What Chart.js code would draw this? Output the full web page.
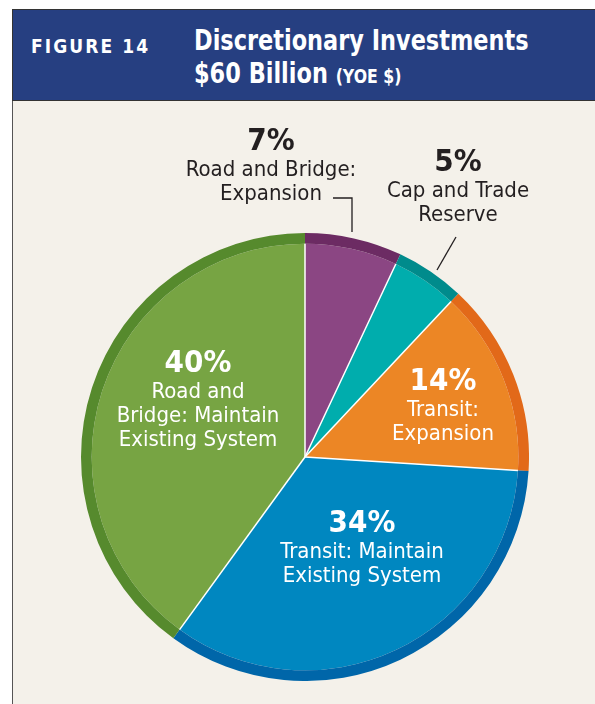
<!DOCTYPE html>
<html>
<head>
<meta charset="utf-8">
<script src="https://cdn.jsdelivr.net/npm/chart.js@4"></script>
<style>
  body { margin: 0; width: 595px; height: 704px; background: #fff; overflow: hidden; font-family: "DejaVu Sans Condensed", "Roboto", sans-serif; }
  #panel { position: absolute; left: 12px; top: 100px; width: 600px; height: 620px; background: #f4f1ea; border-left: 1.5px solid #555; }
  #header { position: absolute; left: 12px; top: 9px; width: 600px; height: 90px; background: #263f81; border: 1.5px solid #333; color: #fff; }
  #fig { position: absolute; left: 18px; top: 24px; font-weight: bold; font-size: 20px; letter-spacing: 2.2px; transform: scaleX(0.95); transform-origin: left; }
  #title { position: absolute; left: 181px; top: 14px; font-weight: bold; font-size: 28.5px; line-height: 33px; transform: scaleX(0.875); transform-origin: left; white-space: nowrap; }
  #title small { font-size: 20px; }
  #chartBox { position: absolute; left: 81px; top: 233px; width: 448px; height: 448px; }
  .lbl { position: absolute; text-align: center; font-size: 22px; line-height: 24px; transform: translateX(-50%); white-space: nowrap; }
  .lbl b { display: block; font-size: 31px; line-height: 30px; margin-bottom: 3px; }
  .dark { color: #231f20; }
  .light { color: #fff; }
</style>
</head>
<body>
<div id="panel"></div>
<div id="header">
  <div id="fig">FIGURE 14</div>
  <div id="title">Discretionary Investments<br>$60 Billion <small>(YOE $)</small></div>
</div>
<div id="chartBox"><canvas id="pie"></canvas></div>
<svg style="position:absolute;left:0;top:0" width="595" height="704">
  <polyline points="333,198 352,198 352,232" fill="none" stroke="#231f20" stroke-width="1.3"/>
  <line x1="456" y1="237" x2="437" y2="270" stroke="#231f20" stroke-width="1.3"/>
</svg>
<div class="lbl dark" style="left:271px;top:124px"><b>7%</b>Road and Bridge:<br>Expansion</div>
<div class="lbl dark" style="left:458px;top:145px"><b>5%</b>Cap and Trade<br>Reserve</div>
<div class="lbl light" style="left:198px;top:346px"><b>40%</b>Road and<br>Bridge: Maintain<br>Existing System</div>
<div class="lbl light" style="left:443px;top:364px"><b>14%</b>Transit:<br>Expansion</div>
<div class="lbl light" style="left:362px;top:506px"><b>34%</b>Transit: Maintain<br>Existing System</div>
<script>
  const categories = ["Road and Bridge: Expansion", "Cap and Trade Reserve", "Transit: Expansion", "Transit: Maintain Existing System", "Road and Bridge: Maintain Existing System"];
  const shares = [7, 5, 14, 34, 40];
  const fillColors = ["#8b4683", "#00adad", "#ec8625", "#0087c0", "#77a443"];
  const rimColors = ["#6c2b63", "#008b8c", "#e26919", "#0066a9", "#568a2d"];

  // white radial separators on the inner fill only (the dark rim has none)
  const separators = {
    id: "separators",
    afterDatasetsDraw(chart) {
      const arcs = chart.getDatasetMeta(1).data;
      const c = chart.ctx;
      c.save();
      c.strokeStyle = "#ffffff";
      c.lineWidth = 1.5;
      arcs.forEach(a => {
        c.beginPath();
        c.moveTo(a.x, a.y);
        c.lineTo(a.x + a.outerRadius * Math.cos(a.startAngle), a.y + a.outerRadius * Math.sin(a.startAngle));
        c.stroke();
      });
      c.restore();
    }
  };

  const ctx = document.getElementById("pie").getContext("2d");
  new Chart(ctx, {
    type: "pie",
    data: {
      labels: categories,
      datasets: [
        { data: shares, backgroundColor: rimColors, borderWidth: 0, weight: 1 },
        { data: shares, backgroundColor: fillColors, borderWidth: 0, weight: 20 }
      ]
    },
    options: {
      responsive: true,
      maintainAspectRatio: false,
      animation: false,
      layout: { padding: 0 },
      plugins: { legend: { display: false }, tooltip: { enabled: false } }
    },
    plugins: [separators]
  });
</script>
</body>
</html>
